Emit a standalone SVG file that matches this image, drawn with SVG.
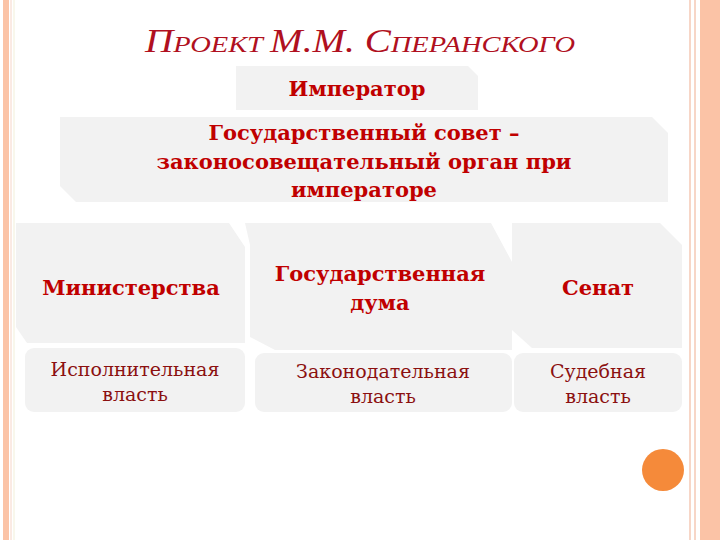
<svg xmlns="http://www.w3.org/2000/svg" width="720" height="540" viewBox="0 0 720 540">
<style>
.box{fill:#f2f2f2}
.t1{font-family:"DejaVu Serif",serif;font-weight:bold;font-size:21px;fill:#c00000;text-anchor:middle}
.t2{font-family:"DejaVu Serif",serif;font-size:19px;fill:#8b1010;text-anchor:middle}
</style>
<rect width="720" height="540" fill="#fff"/>
<g id="border">
<rect x="3" y="0" width="6" height="540" fill="#fbc3a6"/>
<line x1="11" y1="0" x2="11" y2="540" stroke="#f6d5c8" stroke-width="1"/>
<line x1="14" y1="0" x2="14" y2="540" stroke="#f2efd9" stroke-width="1"/>
<line x1="690" y1="0" x2="690" y2="540" stroke="#f4c9b5" stroke-width="1.5"/>
<line x1="695" y1="0" x2="695" y2="540" stroke="#f4c9b5" stroke-width="1.5"/>
<rect x="700" y="0" width="20" height="540" fill="#fbc3a6"/>
</g>
<text id="title" x="360" y="52" text-anchor="middle" font-family="Liberation Serif,serif" font-style="italic" font-size="33" fill="#b01020" textLength="430" lengthAdjust="spacingAndGlyphs"><tspan>П</tspan><tspan font-size="24">РОЕКТ </tspan><tspan>М.М. С</tspan><tspan font-size="24">ПЕРАНСКОГО</tspan></text>
<g id="connectors"/>
<g id="imperator"><path class="box" d="M236,66 H468 L478,76 V110 H236 Z"/><text class="t1" x="357" y="96">Император</text></g>
<g id="council"><path class="box" d="M60,117 H652 L668,133 V202 H76 L60,186 Z"/>
<text class="t1" x="364" y="140">Государственный совет –</text>
<text class="t1" x="364" y="169">законосовещательный орган при</text>
<text class="t1" x="364" y="197">императоре</text></g>
<g id="ministries"><path class="box" d="M16,223 H229 L245,247 V343 H27 L16,327 Z"/><text class="t1" x="131" y="295">Министерства</text></g>
<g id="duma"><path class="box" d="M245,223 H491 L512,262 V350 H275 L250,337 V245 Z"/><text class="t1" x="380" y="281">Государственная</text><text class="t1" x="380" y="310">дума</text></g>
<g id="senate"><path class="box" d="M512,223 H660 L682,245 V348 H532 L512,330 Z"/><text class="t1" x="598" y="295">Сенат</text></g>
<g id="exec"><rect class="box" x="25" y="348" width="220" height="64" rx="9"/><text class="t2" x="135" y="376">Исполнительная</text><text class="t2" x="135" y="401">власть</text></g>
<g id="legis"><rect class="box" x="255" y="353" width="257" height="59" rx="9"/><text class="t2" x="383" y="378">Законодательная</text><text class="t2" x="383" y="403">власть</text></g>
<g id="judic"><rect class="box" x="514" y="353" width="168" height="59" rx="9"/><text class="t2" x="598" y="378">Судебная</text><text class="t2" x="598" y="403">власть</text></g>
<circle cx="663" cy="470" r="21" fill="#f58a3a"/>
</svg>
